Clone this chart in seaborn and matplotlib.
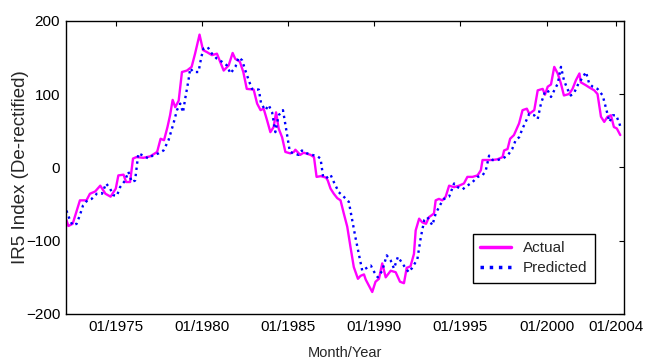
import numpy as np
import pandas as pd
import seaborn as sns
import matplotlib
matplotlib.use("Agg")
import matplotlib.pyplot as plt

# values (decimal year, index value)
actual_year = [1972.14, 1972.25, 1972.5, 1972.92, 1973.3, 1973.5, 1973.8, 1974.1, 1974.4, 1974.7,
               1975.0, 1975.15, 1975.45, 1975.6, 1975.83, 1976.0, 1976.2, 1976.6, 1977.0, 1977.4,
               1977.6, 1977.8, 1978.0, 1978.15, 1978.3, 1978.45, 1978.65, 1978.84, 1979.13, 1979.4,
               1979.6, 1979.86, 1980.06, 1980.3, 1980.58, 1980.87, 1981.26, 1981.55, 1981.78, 1981.93,
               1982.2, 1982.4, 1982.6, 1983.0, 1983.2, 1983.4, 1983.58, 1983.78, 1983.97, 1984.16,
               1984.3, 1984.45, 1984.65, 1984.84, 1985.13, 1985.33, 1985.42, 1985.7, 1985.9, 1986.3,
               1986.5, 1986.65, 1986.9, 1987.2, 1987.3, 1987.46, 1987.65, 1987.85, 1988.04, 1988.23,
               1988.43, 1988.62, 1988.81, 1989.05, 1989.2, 1989.4, 1989.5, 1989.68, 1989.88, 1990.07,
               1990.27, 1990.46, 1990.66, 1990.95, 1991.24, 1991.49, 1991.72, 1991.88, 1992.1, 1992.3,
               1992.4, 1992.6, 1992.78, 1993.0, 1993.17, 1993.46, 1993.56, 1993.75, 1993.95, 1994.14,
               1994.34, 1994.63, 1994.92, 1995.2, 1995.4, 1995.7, 1995.99, 1996.18, 1996.28, 1996.57,
               1996.86, 1997.15, 1997.44, 1997.53, 1997.73, 1997.88, 1998.1, 1998.4, 1998.6, 1998.85,
               1998.99, 1999.28, 1999.48, 1999.77, 1999.9, 2000.06, 2000.25, 2000.44, 2000.64, 2000.83,
               2001.0, 2001.3, 2001.5, 2001.7, 2001.9, 2001.98, 2002.27, 2002.47, 2002.76, 2002.95,
               2003.15, 2003.34, 2003.53, 2003.73, 2003.9, 2004.07, 2004.27]
actual_val = [-72, -80, -77, -45, -45, -36, -33, -25, -36, -40,
              -29, -11, -10, -20, -20, 12, 14, 13, 15, 21,
              39, 37, 55, 71, 92, 82, 91, 130, 132, 137,
              155, 181, 160, 157, 153, 155, 132, 139, 156, 148,
              144, 130, 107, 106, 87, 78, 80, 64, 48, 55,
              75, 53, 41, 21, 19, 21, 24, 17, 20, 17,
              14, -13, -12, -14, -18, -29, -36, -42, -45, -63,
              -81, -109, -136, -152, -148, -146, -153, -161, -170, -156,
              -152, -131, -150, -141, -143, -156, -158, -137, -135, -118,
              -86, -70, -75, -77, -68, -63, -45, -43, -45, -40,
              -25, -27, -25, -22, -13, -13, -11, -4, 10, 10,
              10, 11, 14, 23, 25, 39, 44, 60, 78, 80,
              73, 78, 105, 107, 99, 110, 113, 137, 128, 114,
              98, 100, 107, 119, 128, 116, 112, 109, 105, 100,
              69, 62, 69, 71, 55, 53, 44]

pred_year = [1972.14, 1972.34, 1972.5, 1972.73, 1972.92, 1973.1, 1973.35, 1973.6, 1973.9, 1974.2,
             1974.44, 1974.67, 1974.86, 1975.06, 1975.25, 1975.54, 1975.73, 1975.93, 1976.12, 1976.31,
             1976.6, 1976.9, 1977.19, 1977.48, 1977.77, 1978.06, 1978.35, 1978.55, 1978.74, 1978.9,
             1979.03, 1979.22, 1979.32, 1979.5, 1979.8, 1979.96, 1980.09, 1980.33, 1980.58, 1980.87,
             1981.16, 1981.45, 1981.65, 1981.94, 1982.13, 1982.33, 1982.52, 1982.71, 1982.9, 1983.3,
             1983.43, 1983.68, 1983.87, 1984.07, 1984.26, 1984.45, 1984.7, 1984.9, 1985.1, 1985.33,
             1985.6, 1985.8, 1986.1, 1986.4, 1986.7, 1986.88, 1987.03, 1987.2, 1987.46, 1987.65,
             1987.94, 1988.14, 1988.52, 1988.72, 1988.9, 1989.1, 1989.3, 1989.5, 1989.8, 1990.0,
             1990.2, 1990.46, 1990.72, 1990.95, 1991.14, 1991.37, 1991.63, 1991.8, 1992.0, 1992.2,
             1992.5, 1992.7, 1992.9, 1993.08, 1993.37, 1993.56, 1993.85, 1994.05, 1994.34, 1994.63,
             1994.83, 1995.12, 1995.4, 1995.7, 1996.0, 1996.28, 1996.47, 1996.66, 1996.86, 1997.15,
             1997.44, 1997.73, 1998.0, 1998.2, 1998.4, 1998.6, 1998.78, 1998.99, 1999.28, 1999.48,
             1999.67, 1999.9, 2000.06, 2000.25, 2000.44, 2000.64, 2000.83, 2001.0, 2001.2, 2001.4,
             2001.6, 2001.84, 2002.1, 2002.28, 2002.47, 2002.67, 2002.95, 2003.25, 2003.45, 2003.64,
             2003.84, 2004.03, 2004.22, 2004.3]
pred_val = [-59, -72, -79, -77, -65, -52, -45, -43, -36, -36,
            -22, -29, -38, -39, -27, -18, -6, -20, -18, 19,
            16, 12, 17, 19, 23, 37, 60, 78, 87, 75,
            94, 119, 135, 130, 130, 150, 162, 164, 155, 148,
            144, 139, 128, 137, 150, 146, 132, 119, 107, 106,
            87, 78, 85, 75, 48, 71, 78, 50, 21, 19,
            17, 23, 19, 17, 15, 12, -13, -15, -10, -20,
            -34, -38, -47, -72, -95, -118, -141, -138, -134, -143,
            -150, -141, -120, -127, -138, -122, -131, -137, -143, -137,
            -125, -95, -72, -68, -79, -63, -50, -43, -40, -22,
            -27, -30, -25, -20, -13, -11, -4, 16, 10, 10,
            12, 16, 25, 37, 41, 53, 62, 73, 71, 66,
            87, 103, 105, 96, 105, 114, 137, 119, 107, 98,
            102, 114, 123, 130, 114, 110, 107, 98, 80, 62,
            71, 71, 60, 53]

tick_years = [1975, 1980, 1985, 1990, 1995, 2000, 2004]
tick_labels = ["01/1975", "01/1980", "01/1985", "01/1990", "01/1995", "01/2000", "01/2004"]
y_ticks = [-200, -100, 0, 100, 200]

sns.set_style("white")
plt.rcParams['font.family'] = ['Liberation Sans', 'DejaVu Sans']

fig = plt.figure(figsize=(6.45, 3.63), dpi=100)
ax = fig.add_axes([0.102, 0.135, 0.865, 0.808])

sns.lineplot(x=actual_year, y=actual_val, ax=ax, color="#ff00ff", linewidth=1.7,
             label="Actual", estimator=None, sort=False)
sns.lineplot(x=pred_year, y=pred_val, ax=ax, color="#0000ff", linewidth=1.7,
             linestyle=":", label="Predicted", estimator=None, sort=False)

ax.set_xlim(1972.1, 2004.47)
ax.set_ylim(-200, 200)
ax.set_xticks(tick_years)
ax.set_xticklabels(tick_labels)
ax.set_yticks(y_ticks)
ax.tick_params(direction="in", length=3.5, width=0.8, top=True, right=True,
               labelsize=11, pad=4, colors="black")
for s in ax.spines.values():
    s.set_color("black")
    s.set_linewidth(1.0)

ax.set_xlabel("Month/Year", fontsize=10.5, labelpad=9)
ax.set_ylabel("IR5 Index (De-rectified)", fontsize=13.5, labelpad=-2)

leg = ax.legend(loc="lower left", bbox_to_anchor=(0.729, 0.106), borderaxespad=0,
                fancybox=False, edgecolor="black", framealpha=1, fontsize=11,
                handlelength=2.0, borderpad=0.5, labelspacing=0.4)
leg.get_frame().set_linewidth(1.0)
for h in leg.get_lines():
    h.set_linewidth(2.5)

fig.savefig("out.png", dpi=100)
